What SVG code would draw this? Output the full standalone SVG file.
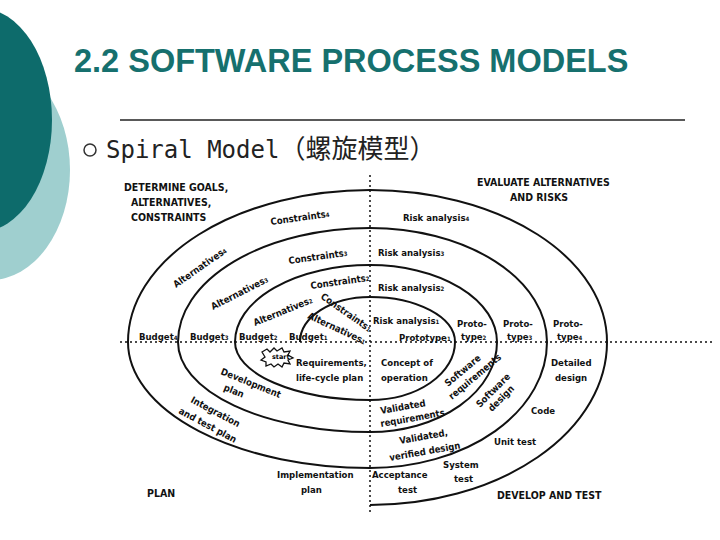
<svg xmlns="http://www.w3.org/2000/svg" width="720" height="540" viewBox="0 0 720 540">
<style>
.t{font-family:"DejaVu Sans Condensed","DejaVu Sans",sans-serif;font-weight:bold;font-size:9.5px;fill:#111}
.h{font-family:"DejaVu Sans Condensed","DejaVu Sans",sans-serif;font-weight:bold;font-size:10.5px;fill:#111}
.c{fill:none;stroke:#111;stroke-width:2}
.ax{stroke:#111;stroke-width:1.5;stroke-dasharray:2 3}
</style>
<rect width="720" height="540" fill="#fff"/>
<g id="deco">
<ellipse cx="-10" cy="170" rx="80" ry="110" fill="#9fcfcf"/>
<ellipse cx="-20" cy="120" rx="72" ry="112" fill="#0d6b6b"/>
</g>
<g id="title">
<text x="74" y="72" font-family="Liberation Sans,sans-serif" font-size="32.5" font-weight="bold" fill="#16706e">2.2 SOFTWARE PROCESS MODELS</text>
<line x1="120" y1="120" x2="685" y2="120" stroke="#222" stroke-width="1.5"/>
<circle cx="90" cy="150" r="6" fill="none" stroke="#333" stroke-width="1.5"/>
<text x="106" y="158" font-family="DejaVu Sans Mono,monospace,'Noto Sans CJK SC'" font-size="24" fill="#222">Spiral Model<tspan font-family="Noto Sans CJK SC,sans-serif" font-size="26">（螺旋模型）</tspan></text>
</g>
<g id="connectors">
<line class="ax" x1="370" y1="175" x2="370" y2="512"/>
<line class="ax" x1="120" y1="342" x2="715" y2="342"/>
<path class="c" d="M300 342 A70 45 0 0 1 370 297 A85 45 0 0 1 455 342 A85 58 0 0 1 370 400 A135 58 0 0 1 235 342 A135 77 0 0 1 370 265 A127 77 0 0 1 497 342 A127 90 0 0 1 370 432 A192 90 0 0 1 178 342 A192 114 0 0 1 370 228 A177 114 0 0 1 547 342 A177 126 0 0 1 370 468 A242 126 0 0 1 128 342 A242 152 0 0 1 370 190 A237 152 0 0 1 607 342 A237 163 0 0 1 370 505 L372 505"/>
</g>
<g id="quadrants">
<text class="h" x="124" y="191">DETERMINE GOALS,</text>
<text class="h" x="131" y="206">ALTERNATIVES,</text>
<text class="h" x="131" y="221">CONSTRAINTS</text>
<text class="h" x="477" y="186">EVALUATE ALTERNATIVES</text>
<text class="h" x="510" y="201">AND RISKS</text>
<text class="h" x="147" y="497">PLAN</text>
<text class="h" x="497" y="499">DEVELOP AND TEST</text>
</g>
<g id="labels">
<text class="t" x="271" y="225" transform="rotate(-8 271 225)">Constraints<tspan font-size="6">4</tspan></text>
<text class="t" x="289" y="264" transform="rotate(-8 289 264)">Constraints<tspan font-size="6">3</tspan></text>
<text class="t" x="311" y="289" transform="rotate(-8 311 289)">Constraints<tspan font-size="6">2</tspan></text>
<text class="t" x="320" y="298" transform="rotate(35 320 298)">Constraints<tspan font-size="6">1</tspan></text>
<text class="t" x="176" y="288" transform="rotate(-35 176 288)">Alternatives<tspan font-size="6">4</tspan></text>
<text class="t" x="213" y="310" transform="rotate(-27 213 310)">Alternatives<tspan font-size="6">3</tspan></text>
<text class="t" x="255" y="326" transform="rotate(-22 255 326)">Alternatives<tspan font-size="6">2</tspan></text>
<text class="t" x="307" y="318" transform="rotate(25 307 318)">Alternatives<tspan font-size="6">1</tspan></text>
<text class="t" x="139" y="340">Budget<tspan font-size="6">4</tspan></text>
<text class="t" x="190" y="340">Budget<tspan font-size="6">3</tspan></text>
<text class="t" x="239" y="340">Budget<tspan font-size="6">2</tspan></text>
<text class="t" x="289" y="340">Budget<tspan font-size="6">1</tspan></text>
<text class="t" x="403" y="221">Risk analysis<tspan font-size="6">4</tspan></text>
<text class="t" x="378" y="256">Risk analysis<tspan font-size="6">3</tspan></text>
<text class="t" x="378" y="291">Risk analysis<tspan font-size="6">2</tspan></text>
<text class="t" x="373" y="324">Risk analysis<tspan font-size="6">1</tspan></text>
<text class="t" x="399" y="341">Prototype<tspan font-size="6">1</tspan></text>
<text class="t" x="457" y="327">Proto-</text><text class="t" x="461" y="340">type<tspan font-size="6">2</tspan></text>
<text class="t" x="503" y="327">Proto-</text><text class="t" x="507" y="340">type<tspan font-size="6">3</tspan></text>
<text class="t" x="553" y="327">Proto-</text><text class="t" x="557" y="340">type<tspan font-size="6">4</tspan></text>
<path d="M262 352 l5 -3 l3 3 l4 -4 l3 3 l5 -3 l2 4 l6 -1 l-2 4 l5 3 l-5 2 l2 4 l-6 -1 l-2 4 l-4 -3 l-4 3 l-3 -3 l-5 2 l0 -4 l-5 -2 l4 -3 z" fill="#fff" stroke="#111" stroke-width="1.3"/>
<text x="272" y="359" font-family="DejaVu Sans,sans-serif" font-size="6.5" font-weight="bold">start</text>
<text class="t" x="296" y="366">Requirements,</text>
<text class="t" x="296" y="381">life-cycle plan</text>
<text class="t" x="381" y="366">Concept of</text>
<text class="t" x="381" y="381">operation</text>
<text class="t" x="220" y="374" transform="rotate(22 220 374)">Development</text>
<text class="t" x="223" y="390" transform="rotate(22 223 390)">plan</text>
<text class="t" x="190" y="402" transform="rotate(28 190 402)">Integration</text>
<text class="t" x="178" y="413" transform="rotate(28 178 413)">and test plan</text>
<text class="t" x="448" y="387" transform="rotate(-40 448 387)">Software</text>
<text class="t" x="452" y="400" transform="rotate(-40 452 400)">requirements</text>
<text class="t" x="381" y="414" transform="rotate(-10 381 414)">Validated</text>
<text class="t" x="381" y="427" transform="rotate(-10 381 427)">requirements</text>
<text class="t" x="480" y="408" transform="rotate(-45 480 408)">Software</text>
<text class="t" x="492" y="412" transform="rotate(-45 492 412)">design</text>
<text class="t" x="551" y="366">Detailed</text>
<text class="t" x="555" y="381">design</text>
<text class="t" x="531" y="414">Code</text>
<text class="t" x="400" y="444" transform="rotate(-10 400 444)">Validated,</text>
<text class="t" x="390" y="461" transform="rotate(-10 390 461)">verified design</text>
<text class="t" x="494" y="445">Unit test</text>
<text class="t" x="443" y="468">System</text>
<text class="t" x="454" y="482">test</text>
<text class="t" x="277" y="478">Implementation</text>
<text class="t" x="301" y="493">plan</text>
<text class="t" x="372" y="478">Acceptance</text>
<text class="t" x="398" y="493">test</text>
</g>
</svg>
